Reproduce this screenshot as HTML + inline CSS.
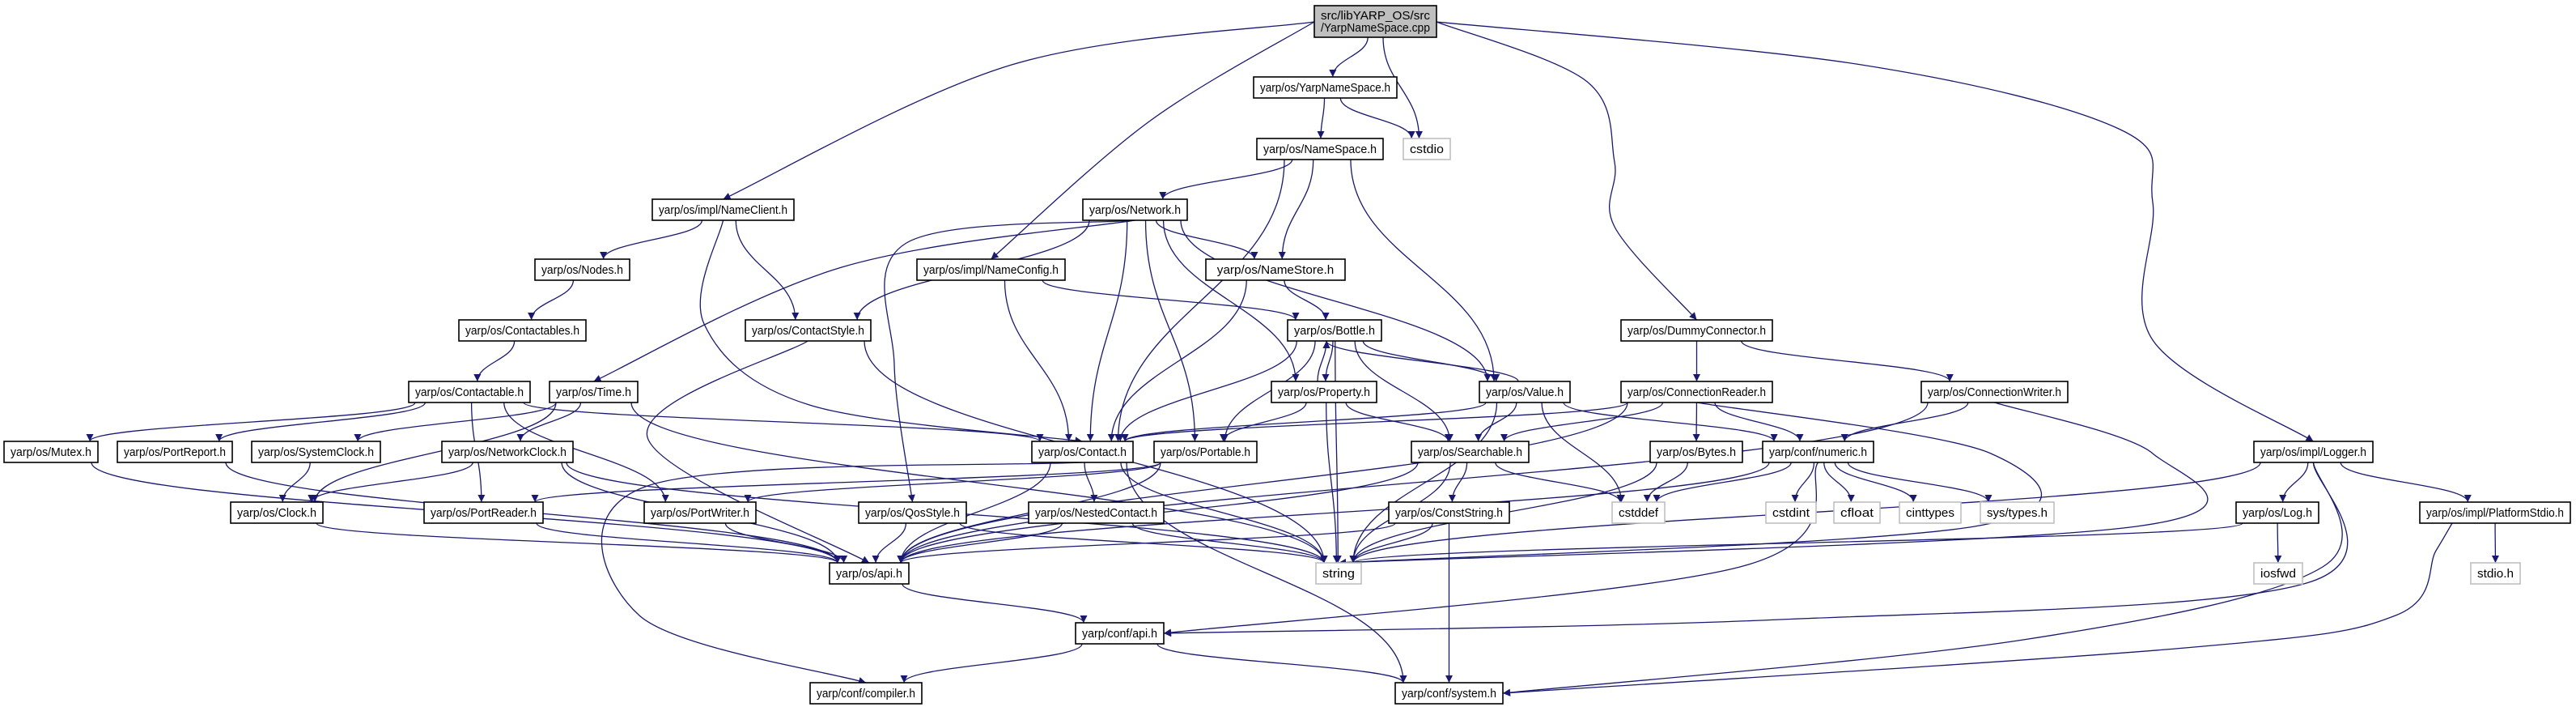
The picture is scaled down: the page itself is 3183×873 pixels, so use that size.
<!DOCTYPE html>
<html><head><meta charset="utf-8"><style>
html,body{margin:0;padding:0;background:#fff;}
svg{display:block;}
text{font-family:"Liberation Sans",sans-serif;font-size:15px;fill:#000;}
</style></head><body>
<svg id="g" width="3183" height="873" viewBox="0 0 3183 873">
<defs><marker id="ah" viewBox="0 0 10 10" refX="10" refY="5" markerWidth="11" markerHeight="9" orient="auto-start-reverse" markerUnits="userSpaceOnUse"><path d="M0,0 L10,5 L0,10 z" fill="#191970"/></marker></defs>
<g id="edges"></g><g id="nodes"></g>
</svg>
<script>
const nodeIds = ["root","yns","cstdio","ns","nclient","net","nodes","nconfig","nstore","ctables","cstyle","bottle","dummy","ctable","time","prop","value","creader","cwriter","mutex","preport","sclock","nclock","contact","portable","search","bytes","numeric","logger","clock","preader","pwriter","qos","nested","cstring","cstddef","cstdint","cfloat","cinttypes","systypes","log","pstdio","api","string","iosfwd","stdioh","capi","compiler","system"];
const nodeLabels = ["src/libYARP_OS/src\n/YarpNameSpace.cpp","yarp/os/YarpNameSpace.h","cstdio","yarp/os/NameSpace.h","yarp/os/impl/NameClient.h","yarp/os/Network.h","yarp/os/Nodes.h","yarp/os/impl/NameConfig.h","yarp/os/NameStore.h","yarp/os/Contactables.h","yarp/os/ContactStyle.h","yarp/os/Bottle.h","yarp/os/DummyConnector.h","yarp/os/Contactable.h","yarp/os/Time.h","yarp/os/Property.h","yarp/os/Value.h","yarp/os/ConnectionReader.h","yarp/os/ConnectionWriter.h","yarp/os/Mutex.h","yarp/os/PortReport.h","yarp/os/SystemClock.h","yarp/os/NetworkClock.h","yarp/os/Contact.h","yarp/os/Portable.h","yarp/os/Searchable.h","yarp/os/Bytes.h","yarp/conf/numeric.h","yarp/os/impl/Logger.h","yarp/os/Clock.h","yarp/os/PortReader.h","yarp/os/PortWriter.h","yarp/os/QosStyle.h","yarp/os/NestedContact.h","yarp/os/ConstString.h","cstddef","cstdint","cfloat","cinttypes","sys/types.h","yarp/os/Log.h","yarp/os/impl/PlatformStdio.h","yarp/os/api.h","string","iosfwd","stdio.h","yarp/conf/api.h","yarp/conf/compiler.h","yarp/conf/system.h"];
const nodeX1 = [1624,1549,1734,1553,806,1338,661,1133,1490,567,921,1591,2003,505,679,1571,1828,2003,2374,5,145,311,546,1275,1426,1744,2039,2178,2785,285,524,796,1061,1271,1716,1992,2182,2266,2347,2447,2763,2990,1025,1626,2785,3053,1329,1001,1724];
const nodeX2 = [1775,1726,1792,1709,981,1467,778,1316,1662,724,1076,1707,2190,655,788,1701,1940,2190,2555,121,287,470,708,1400,1553,1889,2153,2315,2932,399,671,934,1194,1438,1865,2057,2244,2323,2423,2538,2865,3176,1123,1682,2845,3114,1438,1139,1857];
const nodeY = [7,95,171,171,246,246,320,320,320,395,395,395,395,471,471,471,471,471,471,545,545,545,545,545,545,545,545,545,545,620,620,620,620,620,620,620,620,620,620,620,620,620,695,695,695,695,769,843,843];
const grayNodes = ["cstdio","string","cstddef","cstdint","cfloat","cinttypes","systypes","iosfwd","stdioh"];
const edgeFrom = ["root","root","root","root","root","root","yns","yns","ns","ns","ns","ns","nclient","nclient","nclient","net","net","net","net","net","net","net","net","nodes","ctables","nconfig","nconfig","nstore","nstore","cstyle","cstyle","bottle","bottle","bottle","bottle","bottle","bottle","prop","prop","prop","prop","value","value","value","value","value","value","ctable","ctable","ctable","ctable","ctable","time","time","time","time","mutex","preport","sclock","nclock","nclock","nclock","clock","preader","pwriter","qos","qos","nested","nested","contact","contact","contact","contact","contact","portable","portable","portable","search","search","search","search","cstring","cstring","cstring","dummy","dummy","creader","creader","creader","creader","creader","creader","cwriter","cwriter","cwriter","bytes","bytes","numeric","numeric","numeric","numeric","numeric","numeric","numeric","logger","logger","logger","logger","logger","log","log","pstdio","pstdio","api","capi","capi"];
const edgeTo = ["nclient","nconfig","yns","cstdio","dummy","logger","ns","cstdio","net","nstore","contact","value","nodes","cstyle","contact","time","cstyle","qos","contact","portable","nstore","prop","value","ctables","ctable","contact","bottle","contact","bottle","api","string","prop","value","search","portable","string","contact","bottle","search","portable","string","bottle","search","contact","cstddef","numeric","string","mutex","preport","contact","preader","pwriter","sclock","nclock","clock","string","api","api","clock","clock","api","string","api","api","api","api","string","api","string","nested","api","string","system","compiler","preader","pwriter","api","cstring","cstddef","string","api","api","string","system","creader","cwriter","search","bytes","numeric","contact","string","api","numeric","string","api","cstddef","string","cstddef","cstdint","cfloat","cinttypes","systypes","capi","api","log","pstdio","string","capi","system","iosfwd","string","stdioh","system","capi","compiler","system"];
// routing waypoints for long edges (layout hints, not data)
const edgeVia = {
 "root>nclient":[[1250,80]],
 "root>nconfig":[[1420,150]],
 "root>dummy":[[1960,100],[1995,200],[1995,280]],
 "root>logger":[[2300,80],[2620,160],[2660,250],[2660,420]],
 "net>time":[[1040,330]],
 "net>qos":[[1120,300],[1105,450]],
 "nclient>contact":[[870,400],[1000,500]],
 "contact>compiler":[[800,600],[790,760]],
 "cstyle>api":[[800,540]],
 "logger>system":[[2870,700],[2500,790]],
 "logger>capi":[[2850,720],[2200,765]],
 "pstdio>system":[[3010,680],[2960,760],[2700,800]],
 "creader>string":[[2460,560],[2440,650]],
 "cwriter>string":[[2660,560],[2640,650]],
 "numeric>capi":[[2150,700]]
};
const H = 26;
const NS = 'http://www.w3.org/2000/svg';
const idx = id => nodeIds.indexOf(id);
const nodesG = document.getElementById('nodes'), edgesG = document.getElementById('edges');
function smooth(pts){
  let d=`M${pts[0][0]},${pts[0][1]}`;
  for(let i=0;i<pts.length-1;i++){
    const p0=pts[i-1]||pts[i],p1=pts[i],p2=pts[i+1],p3=pts[i+2]||p2;
    const c1=[p1[0]+(p2[0]-p0[0])/6,p1[1]+(p2[1]-p0[1])/6];
    const c2=[p2[0]-(p3[0]-p1[0])/6,p2[1]-(p3[1]-p1[1])/6];
    d+=` C${c1[0]},${c1[1]} ${c2[0]},${c2[1]} ${p2[0]},${p2[1]}`;
  }
  return d;
}
for (let i=0;i<edgeFrom.length;i++){
  const a=idx(edgeFrom[i]), b=idx(edgeTo[i]);
  const aH = edgeFrom[i]==='root'?39:H, bH = edgeTo[i]==='root'?39:H;
  const acx=(nodeX1[a]+nodeX2[a])/2, bcx=(nodeX1[b]+nodeX2[b])/2;
  const via=edgeVia[edgeFrom[i]+'>'+edgeTo[i]];
  let sx,sy,ex,ey,d;
  if (via){
    sx = edgeFrom[i]==='root' ? (via[0][0]<acx? nodeX1[a] : (via[0][0]>nodeX2[a]?nodeX2[a]:acx)) : acx;
    sy = edgeFrom[i]==='root' ? nodeY[a]+20 : nodeY[a]+aH;
    if (edgeFrom[i]==='root' && sx===acx) sy=nodeY[a]+aH;
    if (edgeFrom[i]==='pstdio') sx = nodeX1[a]+40;
    ex = bcx; ey = nodeY[b];
    if (edgeTo[i]==='system'||edgeTo[i]==='capi'){ ex = nodeX2[b]; ey=nodeY[b]+H/2; }
    d = smooth([[sx,sy],...via,[ex,ey]]);
  } else if (nodeY[b] > nodeY[a]) {
    const wa=nodeX2[a]-nodeX1[a];
    sx = acx + Math.max(-wa/2+8, Math.min(wa/2-8,(bcx-acx)*0.15)); sy = nodeY[a]+aH;
    const wb=nodeX2[b]-nodeX1[b];
    ex = bcx + Math.max(-wb/2+10, Math.min(wb/2-10,(acx-bcx)*0.15)); ey = nodeY[b];
    const dy = ey-sy;
    d=`M${sx},${sy} C${sx},${sy+dy*0.45} ${ex},${ey-dy*0.45} ${ex},${ey}`;
  } else if (nodeY[b] < nodeY[a]) {
    sx = acx - 8; sy = nodeY[a]; ex = bcx - 10; ey = nodeY[b]+bH;
    d=`M${sx},${sy} C${sx},${sy-20} ${ex},${ey+20} ${ex},${ey}`;
  } else {
    sx = acx < bcx ? nodeX2[a] : nodeX1[a]; sy = nodeY[a]+H/2;
    ex = acx < bcx ? nodeX1[b] : nodeX2[b]; ey = nodeY[b]+H/2;
    d=`M${sx},${sy} L${ex},${ey}`;
  }
  const p=document.createElementNS(NS,'path');
  p.setAttribute('d',d);
  p.setAttribute('fill','none');p.setAttribute('stroke','#191970');p.setAttribute('stroke-width','1.3');
  p.setAttribute('marker-end','url(#ah)');
  
  
  edgesG.appendChild(p);
}
for (let i=0;i<nodeIds.length;i++){
  const g=document.createElementNS(NS,'g');
  
  
  const h = nodeIds[i]==='root'?39:H;
  const r=document.createElementNS(NS,'rect');
  r.setAttribute('x',nodeX1[i]);r.setAttribute('y',nodeY[i]);
  r.setAttribute('width',nodeX2[i]-nodeX1[i]);r.setAttribute('height',h);
  const gray = grayNodes.includes(nodeIds[i]);
  r.setAttribute('fill', nodeIds[i]==='root'?'#bfbfbf':'#fff');
  r.setAttribute('stroke', gray?'#bfbfbf':'#000');r.setAttribute('stroke-width','1.6');
  g.appendChild(r);
  const lines=nodeLabels[i].split('\n');
  lines.forEach((ln,k)=>{
    const t=document.createElementNS(NS,'text');
    const w=nodeX2[i]-nodeX1[i]-16;
    if (lines.length>1){t.setAttribute('x',nodeX1[i]+8);t.setAttribute('y',nodeY[i]+17+k*15);}
    else {t.setAttribute('x',(nodeX1[i]+nodeX2[i])/2);t.setAttribute('y',nodeY[i]+18);t.setAttribute('text-anchor','middle');}
    t.setAttribute('textLength',Math.min(w, ln.length*7.6));t.setAttribute('lengthAdjust','spacingAndGlyphs');
    t.textContent=ln;
    g.appendChild(t);
  });
  nodesG.appendChild(g);
}
</script>
</body></html>
